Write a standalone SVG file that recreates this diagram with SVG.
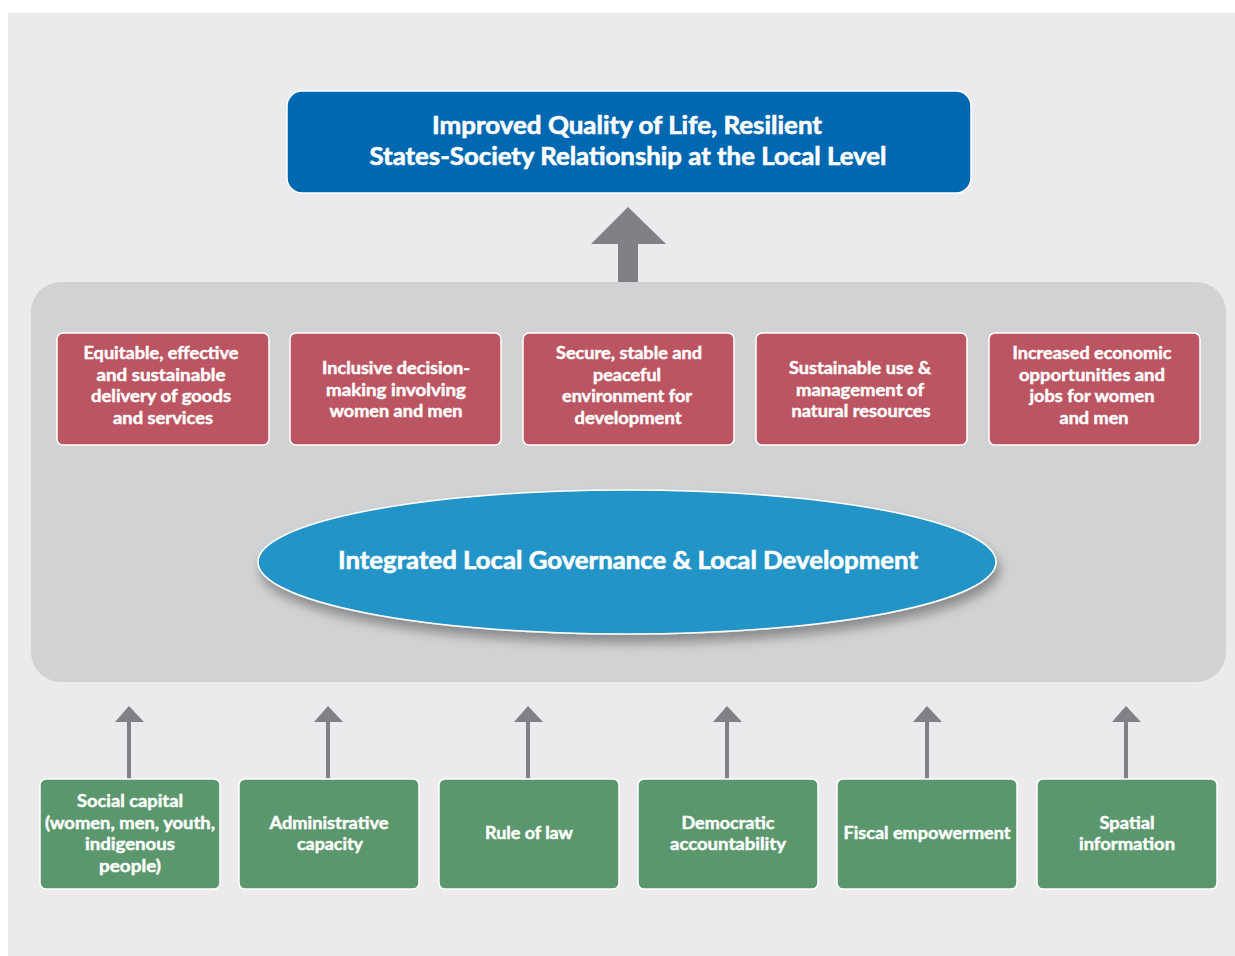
<svg xmlns="http://www.w3.org/2000/svg" width="1235" height="956" viewBox="0 0 1235 956">
<defs>
<style>
.t{font-family:Lato,"Open Sans","Liberation Sans",sans-serif;font-weight:700;fill:#fff;stroke:#fff;stroke-width:0.45;text-anchor:middle}
.big{font-size:24px;stroke-width:0.6}
.sm{font-size:16.5px}
.red{fill:#BC5562;stroke:#fff;stroke-width:1.5}
.grn{fill:#5B976D;stroke:#fff;stroke-width:1.5}
.arr{fill:#808184}
</style>
<filter id="sh" x="-10%" y="-20%" width="120%" height="160%">
<feGaussianBlur in="SourceAlpha" stdDeviation="6"/>
<feOffset dx="3" dy="8" result="b"/>
<feComponentTransfer><feFuncA type="linear" slope="0.35"/></feComponentTransfer>
<feMerge><feMergeNode/><feMergeNode in="SourceGraphic"/></feMerge>
</filter>
</defs>
<rect x="0" y="0" width="1235" height="956" fill="#fff"/>
<rect x="8" y="13" width="1227" height="943" fill="#EBEBED"/>
<rect id="panel" x="31" y="282" width="1195" height="400" rx="30" fill="#D1D2D4"/>

<g id="connectors">
<polygon class="arr" points="628,207 666,244 638,244 638,282 618,282 618,244 591,244"/>
<g>
<polygon class="arr" points="129,706 144,722 115,722"/><rect class="arr" x="127" y="721" width="4" height="58"/>
<polygon class="arr" points="328,706 343,722 314,722"/><rect class="arr" x="326" y="721" width="4" height="58"/>
<polygon class="arr" points="528,706 543,722 514,722"/><rect class="arr" x="526" y="721" width="4" height="58"/>
<polygon class="arr" points="727,706 742,722 713,722"/><rect class="arr" x="725" y="721" width="4" height="58"/>
<polygon class="arr" points="927,706 942,722 913,722"/><rect class="arr" x="925" y="721" width="4" height="58"/>
<polygon class="arr" points="1126,706 1141,722 1112,722"/><rect class="arr" x="1124" y="721" width="4" height="58"/>
</g>
</g>

<g id="goal">
<rect x="287" y="91" width="684" height="102" rx="15" fill="#0067B1" stroke="#fff" stroke-width="1.5"/>
<text class="t big" x="627" y="134" textLength="390" lengthAdjust="spacingAndGlyphs">Improved Quality of Life, Resilient</text>
<text class="t big" x="628" y="165" textLength="517" lengthAdjust="spacingAndGlyphs">States-Society Relationship at the Local Level</text>
</g>

<g id="out1">
<rect class="red" x="57" y="333" width="212" height="112" rx="6"/>
<text class="t sm" x="161" y="359" textLength="155" lengthAdjust="spacingAndGlyphs">Equitable, effective</text>
<text class="t sm" x="161" y="381" textLength="129" lengthAdjust="spacingAndGlyphs">and sustainable</text>
<text class="t sm" x="161" y="402" textLength="140" lengthAdjust="spacingAndGlyphs">delivery of goods</text>
<text class="t sm" x="163" y="424" textLength="100" lengthAdjust="spacingAndGlyphs">and services</text>
</g>
<g id="out2">
<rect class="red" x="290" y="333" width="211" height="112" rx="6"/>
<text class="t sm" x="396" y="374" textLength="148" lengthAdjust="spacingAndGlyphs">Inclusive decision-</text>
<text class="t sm" x="396" y="396" textLength="140" lengthAdjust="spacingAndGlyphs">making involving</text>
<text class="t sm" x="396" y="417" textLength="133" lengthAdjust="spacingAndGlyphs">women and men</text>
</g>
<g id="out3">
<rect class="red" x="523" y="333" width="211" height="112" rx="6"/>
<text class="t sm" x="629" y="359" textLength="146" lengthAdjust="spacingAndGlyphs">Secure, stable and</text>
<text class="t sm" x="627" y="381" textLength="68" lengthAdjust="spacingAndGlyphs">peaceful</text>
<text class="t sm" x="627" y="402" textLength="130" lengthAdjust="spacingAndGlyphs">environment for</text>
<text class="t sm" x="628" y="424" textLength="107" lengthAdjust="spacingAndGlyphs">development</text>
</g>
<g id="out4">
<rect class="red" x="756" y="333" width="211" height="112" rx="6"/>
<text class="t sm" x="860" y="374" textLength="142" lengthAdjust="spacingAndGlyphs">Sustainable use &amp;</text>
<text class="t sm" x="860" y="396" textLength="128" lengthAdjust="spacingAndGlyphs">management of</text>
<text class="t sm" x="861" y="417" textLength="139" lengthAdjust="spacingAndGlyphs">natural resources</text>
</g>
<g id="out5">
<rect class="red" x="989" y="333" width="211" height="112" rx="6"/>
<text class="t sm" x="1092" y="359" textLength="159" lengthAdjust="spacingAndGlyphs">Increased economic</text>
<text class="t sm" x="1092" y="381" textLength="146" lengthAdjust="spacingAndGlyphs">opportunities and</text>
<text class="t sm" x="1092" y="402" textLength="125" lengthAdjust="spacingAndGlyphs">jobs for women</text>
<text class="t sm" x="1094" y="424" textLength="69" lengthAdjust="spacingAndGlyphs">and men</text>
</g>

<g id="core">
<ellipse cx="627" cy="562" rx="369" ry="72" fill="#2094C7" stroke="#fff" stroke-width="1.5" filter="url(#sh)"/>
<text class="t big" x="628" y="569" textLength="580" lengthAdjust="spacingAndGlyphs">Integrated Local Governance &amp; Local Development</text>
</g>

<g id="in1">
<rect class="grn" x="40" y="779" width="180" height="110" rx="6"/>
<text class="t sm" x="130" y="807" textLength="106" lengthAdjust="spacingAndGlyphs">Social capital</text>
<text class="t sm" x="130" y="829" textLength="170" lengthAdjust="spacingAndGlyphs">(women, men, youth,</text>
<text class="t sm" x="130" y="850" textLength="90" lengthAdjust="spacingAndGlyphs">indigenous</text>
<text class="t sm" x="130" y="872" textLength="62" lengthAdjust="spacingAndGlyphs">people)</text>
</g>
<g id="in2">
<rect class="grn" x="239" y="779" width="180" height="110" rx="6"/>
<text class="t sm" x="329" y="829" textLength="119" lengthAdjust="spacingAndGlyphs">Administrative</text>
<text class="t sm" x="330" y="850" textLength="66" lengthAdjust="spacingAndGlyphs">capacity</text>
</g>
<g id="in3">
<rect class="grn" x="439" y="779" width="180" height="110" rx="6"/>
<text class="t sm" x="529" y="839" textLength="88" lengthAdjust="spacingAndGlyphs">Rule of law</text>
</g>
<g id="in4">
<rect class="grn" x="638" y="779" width="180" height="110" rx="6"/>
<text class="t sm" x="728" y="829" textLength="93" lengthAdjust="spacingAndGlyphs">Democratic</text>
<text class="t sm" x="728" y="850" textLength="116" lengthAdjust="spacingAndGlyphs">accountability</text>
</g>
<g id="in5">
<rect class="grn" x="837" y="779" width="180" height="110" rx="6"/>
<text class="t sm" x="927" y="839" textLength="167" lengthAdjust="spacingAndGlyphs">Fiscal empowerment</text>
</g>
<g id="in6">
<rect class="grn" x="1037" y="779" width="180" height="110" rx="6"/>
<text class="t sm" x="1127" y="829" textLength="55" lengthAdjust="spacingAndGlyphs">Spatial</text>
<text class="t sm" x="1127" y="850" textLength="96" lengthAdjust="spacingAndGlyphs">information</text>
</g>
</svg>
